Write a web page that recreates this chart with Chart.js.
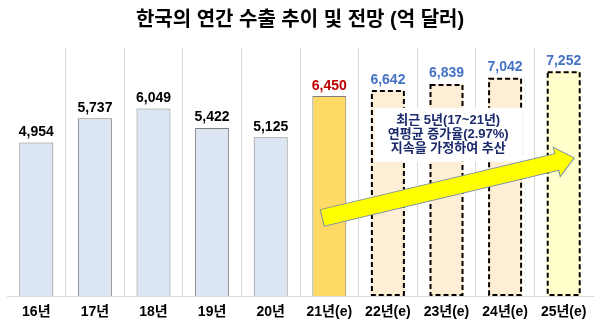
<!DOCTYPE html>
<html><head><meta charset="utf-8">
<script src="https://cdn.jsdelivr.net/npm/chart.js@4/dist/chart.umd.min.js"></script>
<style>html,body{margin:0;padding:0;background:#fff;}</style>
</head><body>
<canvas id="c" width="600" height="325"></canvas>
<script>
const categories = ['16년','17년','18년','19년','20년','21년(e)','22년(e)','23년(e)','24년(e)','25년(e)'];
const exportValues = [4954,5737,6049,5422,5125,6450,6642,6839,7042,7252];
const barKinds = ['actual','actual','actual','actual','actual','current','forecast','forecast','forecast','final'];
const yRange = {min:0, max:8000};
const titleText = '한국의 연간 수출 추이 및 전망 (억 달러)';
const noteLines = ['최근 5년(17~21년)','연평균 증가율(2.97%)','지속을 가정하여 추산'];
const arrowFrom = {index:4.88, value:2520};
const arrowTo = {index:9.18, value:4457};
const noteAnchor = {index:7.03, value:5200};

const FONT = '"Liberation Sans", "Noto Sans CJK KR", Arial, sans-serif';
const fillByKind = {actual:'#dce6f2', current:'#ffd966', forecast:'#fdeed5', final:'#ffffcc'};
const labelByKind = {actual:'#000000', current:'#c00000', forecast:'#4472c4', final:'#4472c4'};
const dashed = barKinds.map(k => k==='forecast' || k==='final');

const overlay = {
  id:'overlay',
  afterDatasetsDraw(chart){
    const ctx = chart.ctx;
    const meta = chart.getDatasetMeta(0);
    const xs = chart.scales.x, ys = chart.scales.y;
    ctx.save();
    // dashed borders
    meta.data.forEach((bar,i)=>{
      if(!dashed[i]) return;
      const w = bar.width, left = bar.x - w/2, top = bar.y, h = bar.base - bar.y;
      ctx.setLineDash([5,3]); ctx.lineWidth = 2; ctx.strokeStyle = '#000';
      ctx.strokeRect(left+1, top+1, w-2, h-2);
    });
    ctx.setLineDash([]);
    // note box
    const nx = xs.getPixelForValue(noteAnchor.index), ny = ys.getPixelForValue(noteAnchor.value);
    ctx.fillStyle = '#fff';
    ctx.fillRect(nx-74, ny-27, 148, 54);
    ctx.font = 'bold 13px ' + FONT; ctx.fillStyle = '#1a2a6c';
    ctx.textAlign = 'center'; ctx.textBaseline = 'middle';
    noteLines.forEach((t,k)=>ctx.fillText(t, nx, ny + (k-1)*14));
    // arrow
    const x1 = xs.getPixelForValue(arrowFrom.index), y1 = ys.getPixelForValue(arrowFrom.value);
    const x2 = xs.getPixelForValue(arrowTo.index), y2 = ys.getPixelForValue(arrowTo.value);
    const ang = Math.atan2(y2-y1, x2-x1), len = Math.hypot(x2-x1, y2-y1);
    const sw = 8.5, hw = 15, hl = 18;
    ctx.save();
    ctx.translate(x1, y1); ctx.rotate(ang);
    ctx.beginPath();
    ctx.moveTo(0,-sw); ctx.lineTo(len-hl,-sw); ctx.lineTo(len-hl,-hw); ctx.lineTo(len,0);
    ctx.lineTo(len-hl,hw); ctx.lineTo(len-hl,sw); ctx.lineTo(0,sw); ctx.closePath();
    ctx.fillStyle = '#ffff00'; ctx.fill();
    ctx.lineWidth = 1; ctx.strokeStyle = '#7a8fa6'; ctx.stroke();
    ctx.restore();
    // value labels
    ctx.font = 'bold 14px ' + FONT; ctx.textAlign = 'center'; ctx.textBaseline = 'alphabetic';
    meta.data.forEach((bar,i)=>{
      ctx.fillStyle = labelByKind[barKinds[i]];
      ctx.fillText(exportValues[i].toLocaleString('en-US'), bar.x, bar.y - 6.5);
    });
    ctx.restore();
  }
};

new Chart(document.getElementById('c'), {
  type:'bar',
  data:{
    labels: categories,
    datasets:[{
      data: exportValues,
      backgroundColor: barKinds.map(k=>fillByKind[k]),
      borderColor: '#808080',
      borderWidth: dashed.map(d=>d?0:1),
      borderSkipped: 'bottom',
      categoryPercentage: 1,
      barPercentage: 0.58
    }]
  },
  options:{
    responsive:false,
    animation:false,
    layout:{padding:{left:7,right:7,top:0,bottom:0}},
    plugins:{
      legend:{display:false},
      tooltip:{enabled:false},
      title:{display:true, text:titleText, color:'#000',
        font:{family:FONT, size:20, weight:'bold'}, padding:{top:8,bottom:16}}
    },
    scales:{
      x:{
        offset:true,
        afterFit: s => { s.height = 29; },
        grid:{offset:true, drawTicks:false,
          color: c => (c.index===0 || c.index===undefined) ? 'rgba(0,0,0,0)' : '#d9d9d9'},
        border:{display:true, color:'#d9d9d9'},
        ticks:{color:'#000', font:{family:FONT, size:14, weight:'bold'}, padding:8, autoSkip:false, maxRotation:0}
      },
      y:{display:false, min:yRange.min, max:yRange.max}
    }
  },
  plugins:[overlay]
});
</script>
</body></html>
